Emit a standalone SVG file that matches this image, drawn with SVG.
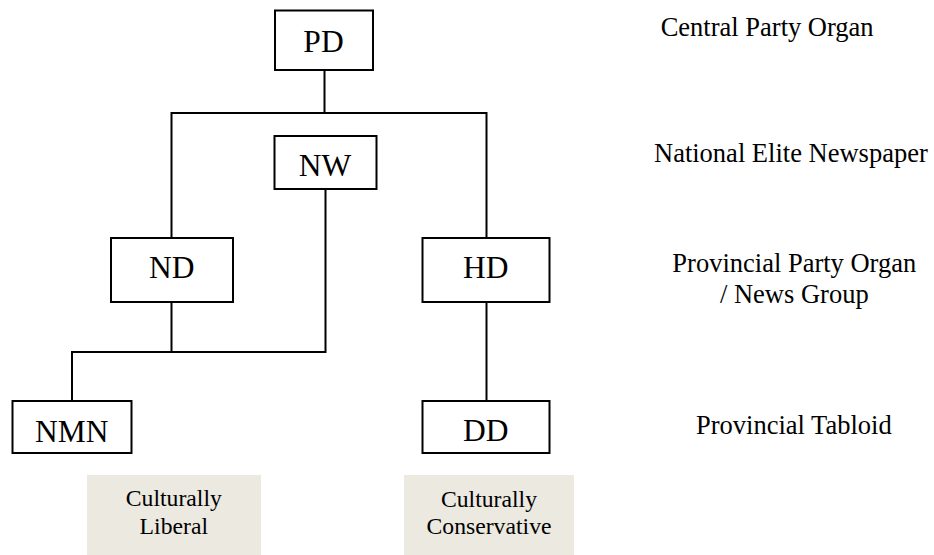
<svg xmlns="http://www.w3.org/2000/svg" width="934" height="555" viewBox="0 0 934 555">
<style>
.box{fill:#fff;stroke:#000;stroke-width:2}
.lbl{font-family:"Liberation Serif","Times New Roman",serif;font-size:31.5px;fill:#000;text-anchor:middle}
.lvl{font-family:"Liberation Serif","Times New Roman",serif;font-size:26.5px;fill:#000}
.cat{fill:#ECE9E0}
.cattxt{font-family:"Liberation Serif","Times New Roman",serif;font-size:23.7px;fill:#000;text-anchor:middle}
.conn{fill:none;stroke:#000;stroke-width:2}
</style>
<rect width="934" height="555" fill="#fff"/>
<g id="connectors">
<path class="conn" d="M324.5 70 V113"/>
<path class="conn" d="M171.5 238 V113 H486.5 V238"/>
<path class="conn" d="M72 401 V352 H325.5 V189"/>
<path class="conn" d="M171.5 302 V352"/>
<path class="conn" d="M486.5 302 V401"/>
</g>
<g id="PD"><rect class="box" x="275" y="10.5" width="98" height="59.5"/><text class="lbl" x="323.5" y="51.7">PD</text></g>
<g id="NW"><rect class="box" x="274.5" y="136" width="102" height="53"/><text class="lbl" x="325" y="175.7">NW</text></g>
<g id="ND"><rect class="box" x="111" y="238" width="122" height="64"/><text class="lbl" x="171.7" y="277.7">ND</text></g>
<g id="HD"><rect class="box" x="422.5" y="238" width="127" height="64"/><text class="lbl" x="485.8" y="277.7">HD</text></g>
<g id="NMN"><rect class="box" x="12.5" y="401" width="119" height="52"/><text class="lbl" x="71.7" y="441.5">NMN</text></g>
<g id="DD"><rect class="box" x="422.5" y="401" width="127" height="52"/><text class="lbl" x="485.8" y="441">DD</text></g>
<g id="liberal"><rect class="cat" x="87" y="475" width="174" height="80"/><text class="cattxt" x="173.8" y="506">Culturally</text><text class="cattxt" x="173.8" y="534">Liberal</text></g>
<g id="conservative"><rect class="cat" x="404" y="475" width="170" height="80"/><text class="cattxt" x="489" y="506.5">Culturally</text><text class="cattxt" x="489" y="534">Conservative</text></g>
<g id="levels">
<text class="lvl" x="660.7" y="36">Central Party Organ</text>
<text class="lvl" x="654" y="161.7">National Elite Newspaper</text>
<text class="lvl" x="794.3" y="271.7" text-anchor="middle">Provincial Party Organ</text>
<text class="lvl" x="794.3" y="302.7" text-anchor="middle">/ News Group</text>
<text class="lvl" x="696" y="434">Provincial Tabloid</text>
</g>
</svg>
